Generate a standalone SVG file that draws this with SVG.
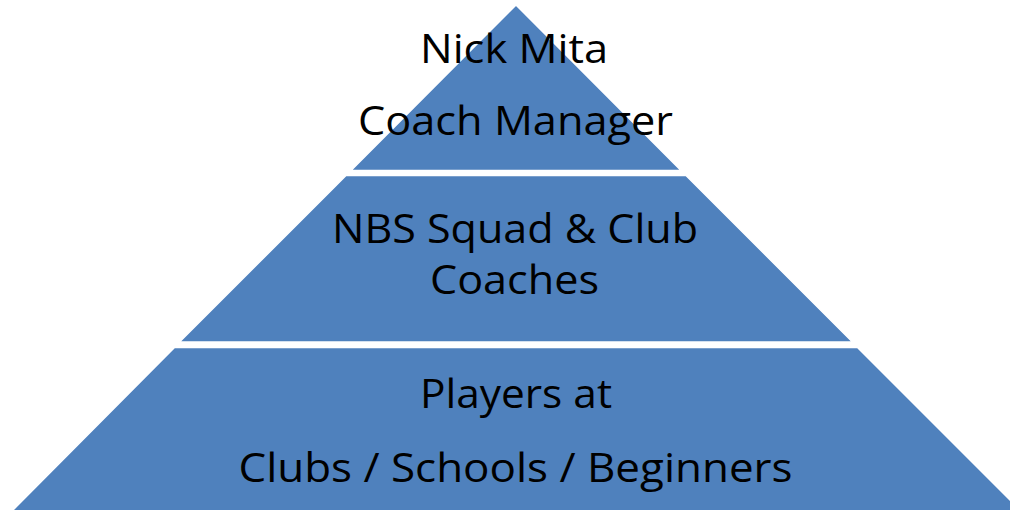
<svg xmlns="http://www.w3.org/2000/svg" width="1010" height="510" viewBox="0 0 1010 510">
  <style>
    .tier { fill: #4F81BD; stroke: #FFFFFF; stroke-width: 1.5; }
    .label { font-family: "Open Sans", "Noto Sans", "Liberation Sans", sans-serif; font-size: 40px; fill: #000000; text-anchor: middle; }
  </style>
  <rect x="0" y="0" width="1010" height="510" fill="#FFFFFF"/>
  <!-- top tier -->
  <g id="tier-top">
    <polygon class="tier" points="516,5 351,170.5 681,170.5"/>
    <text class="label" x="514" y="63" textLength="188" lengthAdjust="spacingAndGlyphs">Nick Mita</text>
    <text class="label" x="515.5" y="135" textLength="315" lengthAdjust="spacingAndGlyphs">Coach Manager</text>
  </g>
  <!-- middle tier -->
  <g id="tier-middle">
    <polygon class="tier" points="346,175.5 686,175.5 852.5,342 179.5,342"/>
    <text class="label" x="515" y="243" textLength="366" lengthAdjust="spacingAndGlyphs">NBS Squad &amp; Club</text>
    <text class="label" x="514.5" y="294" textLength="169" lengthAdjust="spacingAndGlyphs">Coaches</text>
  </g>
  <!-- bottom tier -->
  <g id="tier-bottom">
    <polygon class="tier" points="174.5,347.5 857.5,347.5 1025,515 8,515"/>
    <text class="label" x="516" y="408" textLength="192" lengthAdjust="spacingAndGlyphs">Players at</text>
    <text class="label" x="515.5" y="482" textLength="554" lengthAdjust="spacingAndGlyphs">Clubs / Schools / Beginners</text>
  </g>
  <g id="connectors"/>
</svg>
